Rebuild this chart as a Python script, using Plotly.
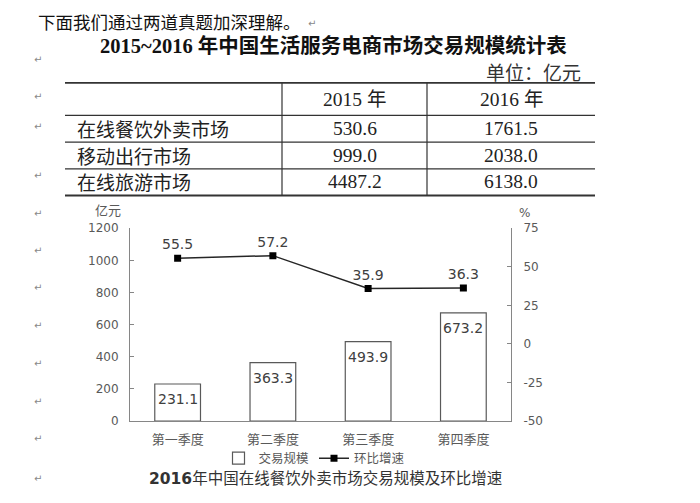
import plotly.graph_objects as go

W, H = 700, 503

# ---------------- data ----------------
intro_text = "下面我们通过两道真题加深理解。"
table_title = "2015~2016 年中国生活服务电商市场交易规模统计表"
table_unit = "单位：亿元"
table_headers = ["2015 年", "2016 年"]
table_rows = ["在线餐饮外卖市场", "移动出行市场", "在线旅游市场"]
values_2015 = [530.6, 999.0, 4487.2]
values_2016 = [1761.5, 2038.0, 6138.0]

quarters = ["第一季度", "第二季度", "第三季度", "第四季度"]
trade_volume = [231.1, 363.3, 493.9, 673.2]
growth_rate = [55.5, 57.2, 35.9, 36.3]
left_ticks = [0, 200, 400, 600, 800, 1000, 1200]
right_ticks = [-50, -25, 0, 25, 50, 75]
chart_title = "<b>2016</b>年中国在线餐饮外卖市场交易规模及环比增速"
series_names = ["交易规模", "环比增速"]

CJK = "Noto Sans CJK SC"
SERIF = "Liberation Serif, Noto Sans CJK SC"
CHART = "DejaVu Sans, Noto Sans CJK SC"


def px(x):
    return x / W


def py(y):
    return 1 - y / H


def label(x, y, text, size, color, family, xanchor="center"):
    return dict(x=px(x), y=py(y), xref="paper", yref="paper", text=text,
                xanchor=xanchor, yanchor="middle", showarrow=False,
                font=dict(size=size, color=color, family=family))


fig = go.Figure()

fig.add_trace(go.Bar(
    x=quarters, y=trade_volume, name=series_names[0],
    marker=dict(color="white", line=dict(color="#595959", width=1.2)),
    yaxis="y", hoverinfo="skip",
))
fig.add_trace(go.Scatter(
    x=quarters, y=growth_rate, name=series_names[1], yaxis="y2",
    mode="lines+markers+text",
    text=[f"{v:.1f}" for v in growth_rate], textposition="top center",
    textfont=dict(size=14, color="#404040", family=CHART),
    line=dict(color="#262626", width=1.5),
    marker=dict(symbol="square", size=7, color="black"),
    hoverinfo="skip",
))

annotations = []
# bar value labels
for q, v in zip(quarters, trade_volume):
    annotations.append(dict(x=q, y=v, xref="x", yref="y", text=f"{v:.1f}",
                            showarrow=False, xanchor="center", yanchor="top", yshift=-5,
                            font=dict(size=14, color="#404040", family=CHART)))

# axis titles
annotations.append(label(108, 208, "亿元", 13, "#595959", CJK))
annotations.append(label(524, 212, "%", 12, "#595959", CHART))
# chart title
annotations.append(label(325, 485, chart_title, 15.5, "#333333", CHART))

# document text
annotations.append(label(36, 15, intro_text, 17.5, "#111111", CJK, xanchor="left"))
annotations.append(label(333, 40, f"<b>{table_title}</b>", 20.5, "#111111", SERIF))
annotations.append(label(583, 66, table_unit, 19, "#333333", CJK, xanchor="right"))

# table
col2_c, col3_c = (282 + 427) / 2, (427 + 595) / 2
header_y = 95
row_ys = [125, 152.5, 180]
annotations.append(label(col2_c, header_y, table_headers[0], 19.5, "#222222", SERIF))
annotations.append(label(col3_c, header_y, table_headers[1], 19.5, "#222222", SERIF))
for name, a, b, ry in zip(table_rows, values_2015, values_2016, row_ys):
    annotations.append(label(75, ry, name, 19, "#222222", CJK, xanchor="left"))
    annotations.append(label(col2_c, ry, f"{a:.1f}", 19.5, "#222222", SERIF))
    annotations.append(label(col3_c, ry, f"{b:.1f}", 19.5, "#222222", SERIF))

# paragraph marks
mark_ys = [54, 92, 123, 173, 212, 250, 289, 328, 367, 406, 444, 485]
for my in mark_ys:
    annotations.append(label(38, my, "↵", 10, "#888888", CHART))
annotations.append(label(312, 17, "↵", 10, "#888888", CHART))

shapes = []
line_c = "#333333"
for yy, w in [(78, 1.6), (111.5, 1.2), (139, 1.2), (166.5, 1.2), (194, 2)]:
    shapes.append(dict(type="line", xref="paper", yref="paper", x0=px(65), x1=px(595),
                       y0=py(yy), y1=py(yy), line=dict(color=line_c, width=w)))
for xx in [282, 427]:
    shapes.append(dict(type="line", xref="paper", yref="paper", x0=px(xx), x1=px(xx),
                       y0=py(78), y1=py(194), line=dict(color=line_c, width=1.2)))

fig.update_layout(
    width=W, height=H,
    margin=dict(l=0, r=0, t=0, b=0),
    paper_bgcolor="white", plot_bgcolor="white",
    showlegend=True,
    legend=dict(orientation="h", x=px(314), xanchor="center", y=py(449), yanchor="top",
                font=dict(size=12.5, color="#595959", family=CJK), bgcolor="rgba(0,0,0,0)",
                itemwidth=30, tracegroupgap=0, borderwidth=0),
    bargap=0.52,
    xaxis=dict(domain=[px(130), px(511)], showline=True, linecolor="#868686", linewidth=1,
               ticks="", showgrid=False, zeroline=False,
               tickfont=dict(size=13, color="#595959", family=CJK), ticklabelstandoff=6),
    yaxis=dict(domain=[py(426), py(227.5)], range=[0, 1200], tickvals=left_ticks,
               ticktext=[str(t) for t in left_ticks],
               showline=True, linecolor="#868686", linewidth=1, ticks="inside", ticklen=4,
               tickcolor="#868686", showgrid=False, zeroline=False,
               tickfont=dict(size=12, color="#595959", family=CHART), ticklabelstandoff=8),
    yaxis2=dict(range=[-50, 75], tickvals=right_ticks, ticktext=[str(t) for t in right_ticks],
                overlaying="y", side="right",
                anchor="x", showline=True, linecolor="#868686", linewidth=1, ticks="inside",
                ticklen=4, tickcolor="#868686", showgrid=False, zeroline=False,
                tickfont=dict(size=12, color="#595959", family=CHART), ticklabelstandoff=9),
    annotations=annotations,
    shapes=shapes,
)

fig.write_html("out.html")
